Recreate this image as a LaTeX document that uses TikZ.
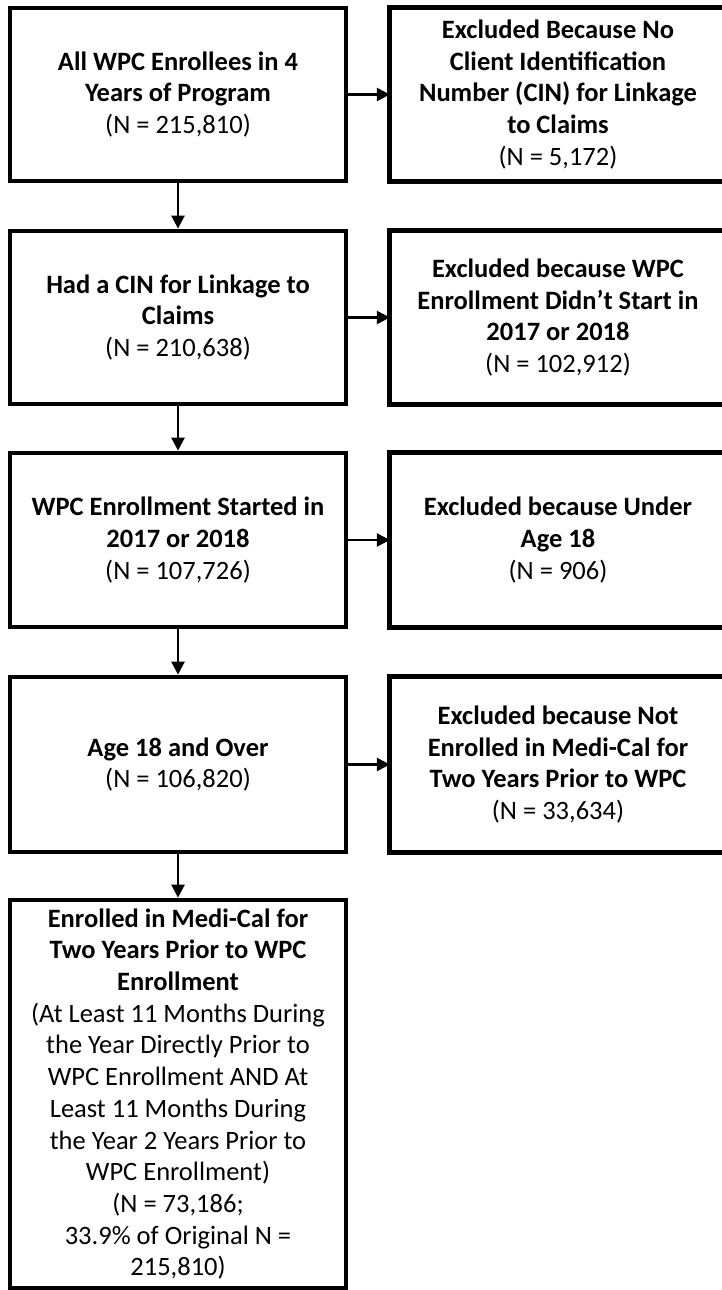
\documentclass[tikz,border=0pt]{standalone}
\usepackage{fontspec}
\setmainfont{Carlito}
\usetikzlibrary{arrows.meta}
\begin{document}
\begin{tikzpicture}[x=1pt,y=-1pt,
  txt/.style={inner sep=0pt, minimum width=336pt, align=center,
    font=\fontsize{26.5}{31.7}\selectfont},
  box/.style={txt, draw=black, line width=4.8pt},
  border/.style={draw=black, line width=4.8pt, line join=miter},
  arr/.style={line width=2.6pt, -{Triangle[length=13pt,width=13pt]}}]
\useasboundingbox (0,0) rectangle (722,1290);
\clip (0,0) rectangle (722,1290);
% left column
\node[box, minimum height=173pt] (a1) at (178,94.5)
  {\textbf{All WPC Enrollees in 4}\\\textbf{Years of Program}\\(N = 215,810)};
\node[box, minimum height=173pt] (a2) at (178,317.5)
  {\textbf{Had a CIN for Linkage to}\\\textbf{Claims}\\(N = 210,638)};
\node[box, minimum height=174pt] (a3) at (178,540)
  {\textbf{WPC Enrollment Started in}\\\textbf{2017 or 2018}\\(N = 107,726)};
\node[box, minimum height=175pt] (a4) at (178,764.5)
  {\textbf{Age 18 and Over}\\(N = 106,820)};
\node[box, minimum height=388pt] (a5) at (178,1094)
  {\textbf{Enrolled in Medi-Cal for}\\\textbf{Two Years Prior to WPC}\\\textbf{Enrollment}\\
   (At Least 11 Months During\\the Year Directly Prior to\\WPC Enrollment AND At\\
   Least 11 Months During\\the Year 2 Years Prior to\\WPC Enrollment)\\
   (N = 73,186;\\33.9\% of Original N =\\215,810)};
% right column (their right sides lie beyond the picture's edge)
\node[txt, minimum height=173pt] (b1) at (558,94.5)
  {\textbf{Excluded Because No}\\\textbf{Client Identification}\\\textbf{Number (CIN) for Linkage}\\\textbf{to Claims}\\(N = 5,172)};
\node[txt, minimum height=173pt] (b2) at (558,317.5)
  {\textbf{Excluded because WPC}\\\textbf{Enrollment Didn’t Start in}\\\textbf{2017 or 2018}\\(N = 102,912)};
\node[txt, minimum height=174pt] (b3) at (558,540)
  {\textbf{Excluded because Under}\\\textbf{Age 18}\\(N = 906)};
\node[txt, minimum height=175pt] (b4) at (558,764.5)
  {\textbf{Excluded because Not}\\\textbf{Enrolled in Medi-Cal for}\\\textbf{Two Years Prior to WPC}\\(N = 33,634)};
\foreach \b in {b1,b2,b3,b4}
  \draw[border] ([xshift=40pt]\b.north east) -- (\b.north west)
    -- (\b.south west) -- ([xshift=40pt]\b.south east);
% connectors
\draw[arr] (a1) -- (b1);
\draw[arr] (a2) -- (b2);
\draw[arr] (a3) -- (b3);
\draw[arr] (a4) -- (b4);
\draw[arr] (a1) -- (a2);
\draw[arr] (a2) -- (a3);
\draw[arr] (a3) -- (a4);
\draw[arr] (a4) -- (a5);
\end{tikzpicture}
\end{document}
